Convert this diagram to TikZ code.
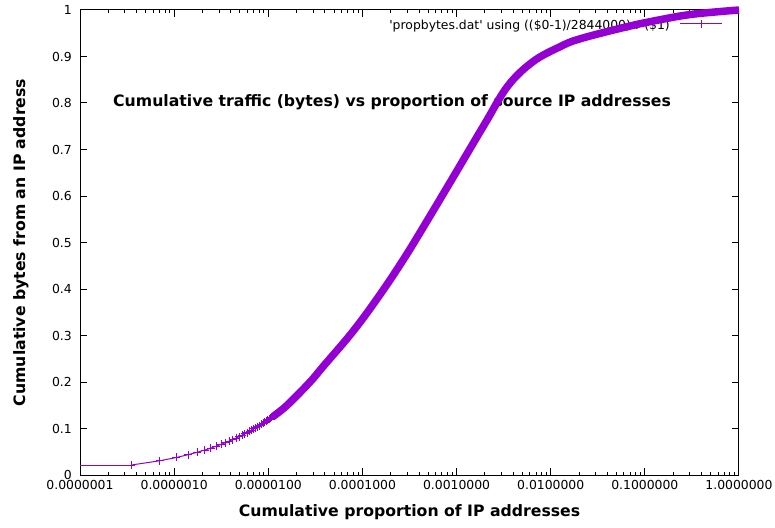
\documentclass[tikz,border=0pt]{standalone}
\usepackage{fontspec}
\setmainfont{DejaVu Sans}
\usepackage{tikz}
\definecolor{plotviolet}{RGB}{148,0,211}

\begin{document}
\begin{tikzpicture}[x=1pt,y=1pt,
  ticklabel/.style={inner sep=0pt,font=\fontsize{12.4}{14}\selectfont},
  axislabel/.style={inner sep=0pt,font=\bfseries\fontsize{15.7}{18}\selectfont},
  curveline/.style={plotviolet,line width=1pt}]
\useasboundingbox (0,0) rectangle (775,527);

\node[axislabel,anchor=base west] (title) at (113,420) {Cumulative traffic (bytes) vs proportion of source IP addresses};
\node[ticklabel,anchor=base east] (legendtext) at (670,497) {\textquotesingle propbytes.dat\textquotesingle{} using ((\$0-1)/2844000) : (\$1)};
\node[axislabel,anchor=base] (xlabel) at (409.5,11) {Cumulative proportion of IP addresses};
\node[axislabel,rotate=90,anchor=base] (ylabel) at (25,284.5) {Cumulative bytes from an IP address};

\coordinate (legA) at (680,503);
\coordinate (legB) at (722,503);
\draw[curveline] (legA) -- (legB);
\path (legA) -- (legB) coordinate[midway] (legM);
\draw[curveline] (legM) +(-4pt,0) -- +(4pt,0) (legM) +(0,-4pt) -- +(0,4pt);

\begin{scope}[shift={(80,52)},x=94.14pt,y=465pt]
\foreach \d/\t in {0/0.0000001,1/0.0000010,2/0.0000100,3/0.0001000,4/0.0010000,5/0.0100000,6/0.1000000,7/1.0000000} {
  \draw[line width=1pt] (\d,0) -- ++(0,7pt);
  \draw[line width=1pt] (\d,1) -- ++(0,-7pt);
  \node[ticklabel,anchor=base,yshift=-14.5pt] (xt\d) at (\d,0) {\t};
}
\foreach \d in {0,...,6}
  \foreach \m in {2,...,9} {
    \draw[line width=1pt] ({\d+log10(\m)},0) -- ++(0,3.5pt);
    \draw[line width=1pt] ({\d+log10(\m)},1) -- ++(0,-3.5pt);
  }
\foreach \i/\t in {0/0,1/0.1,2/0.2,3/0.3,4/0.4,5/0.5,6/0.6,7/0.7,8/0.8,9/0.9,10/1} {
  \draw[line width=1pt] (0,{\i/10}) -- ++(7pt,0);
  \draw[line width=1pt] (7,{\i/10}) -- ++(-7pt,0);
  \node[ticklabel,anchor=east,xshift=-8pt] (yt\i) at (0,{\i/10}) {\t};
}
\draw[line width=1pt] (0,0) rectangle (7,1);

\draw[curveline] (0,0.0215) -- (0.546,0.0215);
\draw[curveline,mark=+,mark size=4pt] plot[domain=1:100,samples=100] ({0.546+log10(\x)},{0.0215*\x^0.51});
\draw[plotviolet,line width=7.5pt] plot[smooth,tension=0.6] coordinates {(2.05,0.1258) (2.2,0.150) (2.443,0.200) (2.581,0.233) (2.9,0.309) (3.187,0.388) (3.45,0.468) (3.697,0.550) (3.983,0.647) (4.302,0.756) (4.546,0.837) (4.812,0.889) (5.099,0.921) (5.311,0.938) (5.81,0.964) (6.16,0.979) (6.511,0.991) (7,1.0)};
\end{scope}
\end{tikzpicture}
\end{document}
